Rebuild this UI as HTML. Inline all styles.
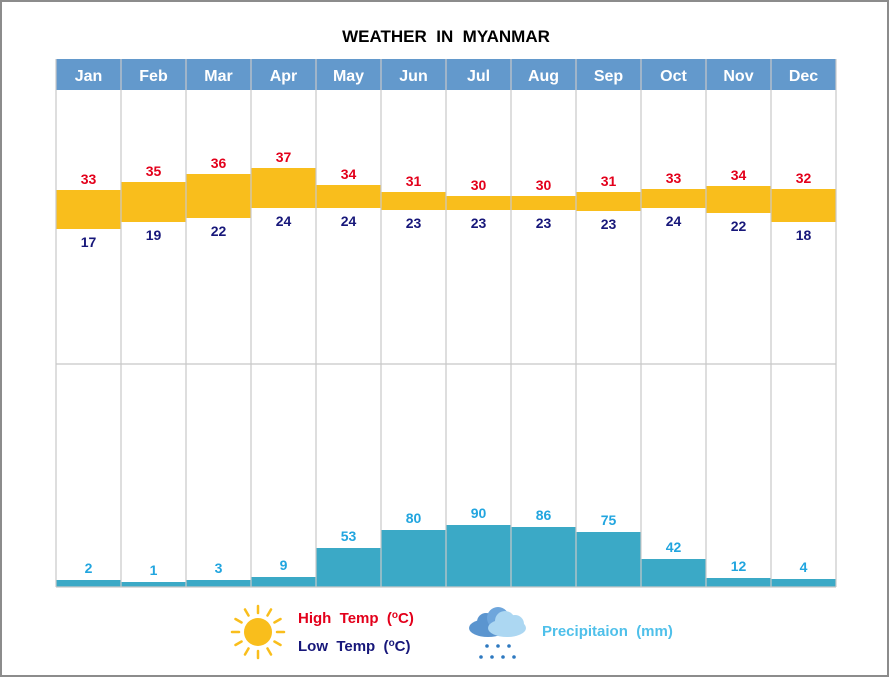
<!DOCTYPE html>
<html><head><style>
html,body{margin:0;padding:0;background:#fff}
svg{display:block}
text{font-family:"Liberation Sans",sans-serif;font-weight:bold}
</style></head><body>
<svg width="889" height="677" viewBox="0 0 889 677">
<rect x="1" y="1" width="887" height="675" fill="#fff" stroke="#8c8c8c" stroke-width="2"/>
<text x="446" y="42" text-anchor="middle" font-size="17" fill="#000">WEATHER&#160;&#160;IN&#160;&#160;MYANMAR</text>
<rect x="56" y="59" width="780" height="31" fill="#6399cc"/>
<g id="g"></g>
<line x1="56" y1="364" x2="836" y2="364" stroke="#c8c8c8" stroke-width="1.2"/>
<line x1="56" y1="587" x2="836" y2="587" stroke="#c8c8c8" stroke-width="1.2"/>
<g transform="translate(258,632)">
<circle r="14" fill="#f9be1c"/>
<g stroke="#f9be1c" stroke-width="2.5" stroke-linecap="round" id="rays"></g>
</g>
<text x="298" y="623" font-size="15" fill="#e3001b" xml:space="preserve">High  Temp  (<tspan font-size="10" dy="-5">o</tspan><tspan dy="5">C)</tspan></text>
<text x="298" y="651" font-size="15" fill="#17177a" xml:space="preserve">Low  Temp  (<tspan font-size="10" dy="-5">o</tspan><tspan dy="5">C)</tspan></text>
<g>
<ellipse cx="488" cy="628" rx="19" ry="9" fill="#5b95cf"/>
<circle cx="486" cy="622" r="9" fill="#5b95cf"/>
<circle cx="498" cy="618" r="11" fill="#6ea6dc"/>
<ellipse cx="507" cy="628" rx="19" ry="9" fill="#acd7f2"/>
<circle cx="505" cy="621" r="10" fill="#acd7f2"/>
<circle cx="515" cy="624" r="9" fill="#acd7f2"/>
<g fill="#2e79c0">
<circle cx="487" cy="646" r="1.8"/><circle cx="498" cy="646" r="1.8"/><circle cx="509" cy="646" r="1.8"/>
<circle cx="481" cy="657" r="1.8"/><circle cx="492" cy="657" r="1.8"/><circle cx="503" cy="657" r="1.8"/><circle cx="514" cy="657" r="1.8"/>
</g>
</g>
<text x="542" y="636" font-size="15" fill="#4fc0ea" xml:space="preserve">Precipitaion  (mm)</text>
</svg>
<script>
(function(){
var m=["Jan","Feb","Mar","Apr","May","Jun","Jul","Aug","Sep","Oct","Nov","Dec"];
var hi=[33,35,36,37,34,31,30,30,31,33,34,32],lo=[17,19,22,24,24,23,23,23,23,24,22,18];
var tp=[190,182,174,168,185,192,196,196,192,189,186,189],bt=[229,222,218,208,208,210,210,210,211,208,213,222];
var pr=[2,1,3,9,53,80,90,86,75,42,12,4],pt=[580,582,580,577,548,530,525,527,532,559,578,579];
var s="";
for(var i=0;i<12;i++){var x=56+i*65,c=x+32.5;
s+='<rect x="'+x+'" y="'+tp[i]+'" width="65" height="'+(bt[i]-tp[i])+'" fill="#f9be1c"/>';
s+='<rect x="'+x+'" y="'+pt[i]+'" width="65" height="'+(587-pt[i])+'" fill="#3ba9c6"/>';
s+='<text x="'+c+'" y="81" text-anchor="middle" font-size="16" fill="#fff">'+m[i]+'</text>';
s+='<text x="'+c+'" y="'+(tp[i]-6)+'" text-anchor="middle" font-size="14" fill="#e3001b">'+hi[i]+'</text>';
s+='<text x="'+c+'" y="'+(bt[i]+18)+'" text-anchor="middle" font-size="14" fill="#17177a">'+lo[i]+'</text>';
s+='<text x="'+c+'" y="'+(pt[i]-7)+'" text-anchor="middle" font-size="14" fill="#21a5df">'+pr[i]+'</text>';}
for(var j=0;j<=12;j++){var xx=56+j*65;s+='<line x1="'+xx+'" y1="59" x2="'+xx+'" y2="587" stroke="#c8c8c8" stroke-width="1.2"/>';}
document.getElementById('g').innerHTML=s;
var r="";for(var k=0;k<12;k++){var a=k*Math.PI/6;r+='<line x1="'+(Math.cos(a)*19)+'" y1="'+(Math.sin(a)*19)+'" x2="'+(Math.cos(a)*26)+'" y2="'+(Math.sin(a)*26)+'"/>';}
document.getElementById('rays').innerHTML=r;
})();
</script>
</body></html>
